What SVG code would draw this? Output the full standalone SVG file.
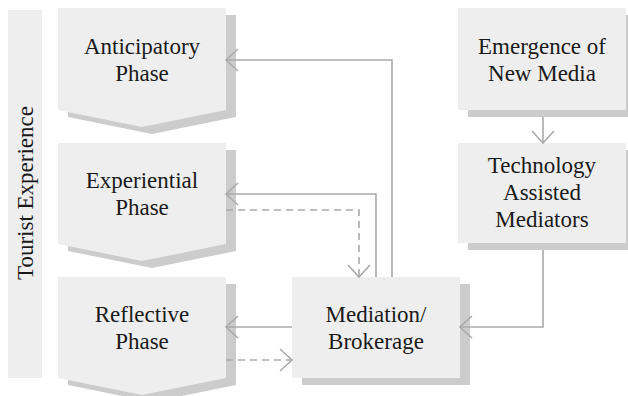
<svg xmlns="http://www.w3.org/2000/svg" width="628" height="396" viewBox="0 0 628 396">
<style>
.box{fill:#eeeeee}
.shadow{fill:#cccccc}
.lbl{font-family:'Liberation Serif','DejaVu Serif',serif;font-size:23px;fill:#1a1a1a;text-anchor:middle}
.conn{fill:none;stroke:#aaaaaa;stroke-width:1.6}
.dash{stroke-dasharray:7 5}
</style>
<defs>
<marker id="arr" viewBox="-13 -12 15 24" markerUnits="userSpaceOnUse" markerWidth="15" markerHeight="24" refX="0" refY="0" orient="auto">
<path d="M-12,-11 L0,0 L-12,11" fill="none" stroke="#aaaaaa" stroke-width="1.6" stroke-dasharray="none"/>
</marker>
</defs>
<rect width="628" height="396" fill="#ffffff"/>
<g id="tourist-experience">
<rect class="box" x="8" y="10" width="34" height="368"/>
<text class="lbl" font-family="Liberation Serif, serif" transform="translate(33,193) rotate(-90)">Tourist Experience</text>
</g>
<g id="anticipatory">
<polygon class="shadow" points="68,15 236,15 236,117 152,134 68,117"/>
<polygon class="box" points="58,8 226,8 226,110 142,127 58,110"/>
<text class="lbl" x="142" y="54">Anticipatory</text>
<text class="lbl" x="142" y="81">Phase</text>
</g>
<g id="experiential">
<polygon class="shadow" points="68,150 236,150 236,251 152,268 68,251"/>
<polygon class="box" points="58,143 226,143 226,244 142,261 58,244"/>
<text class="lbl" x="142" y="188">Experiential</text>
<text class="lbl" x="142" y="215">Phase</text>
</g>
<g id="reflective">
<polygon class="shadow" points="68,284 236,284 236,385 152,402 68,385"/>
<polygon class="box" points="58,277 226,277 226,378 142,395 58,378"/>
<text class="lbl" x="142" y="322">Reflective</text>
<text class="lbl" x="142" y="349">Phase</text>
</g>
<g id="mediation">
<rect class="shadow" x="302" y="284" width="168" height="101"/>
<rect class="box" x="292" y="277" width="168" height="101"/>
<text class="lbl" x="376" y="322">Mediation/</text>
<text class="lbl" x="376" y="349">Brokerage</text>
</g>
<g id="emergence">
<rect class="shadow" x="468" y="15" width="168" height="102"/>
<rect class="box" x="458" y="8" width="168" height="102"/>
<text class="lbl" x="542" y="54">Emergence of</text>
<text class="lbl" x="542" y="81">New Media</text>
</g>
<g id="technology">
<rect class="shadow" x="468" y="150" width="168" height="100"/>
<rect class="box" x="458" y="143" width="168" height="100"/>
<text class="lbl" x="542" y="173">Technology</text>
<text class="lbl" x="542" y="200">Assisted</text>
<text class="lbl" x="542" y="227">Mediators</text>
</g>
<g id="connectors">
<path class="conn" d="M392,277 V60 H226" marker-end="url(#arr)"/>
<path class="conn" d="M376,277 V194 H226" marker-end="url(#arr)"/>
<path class="conn dash" d="M226,210 H359 V277" marker-end="url(#arr)"/>
<path class="conn" d="M292,327 H226" marker-end="url(#arr)"/>
<path class="conn dash" d="M226,360 H292" marker-end="url(#arr)"/>
<path class="conn" d="M543,117 V143" marker-end="url(#arr)"/>
<path class="conn" d="M543,250 V327 H460" marker-end="url(#arr)"/>
</g>
</svg>
